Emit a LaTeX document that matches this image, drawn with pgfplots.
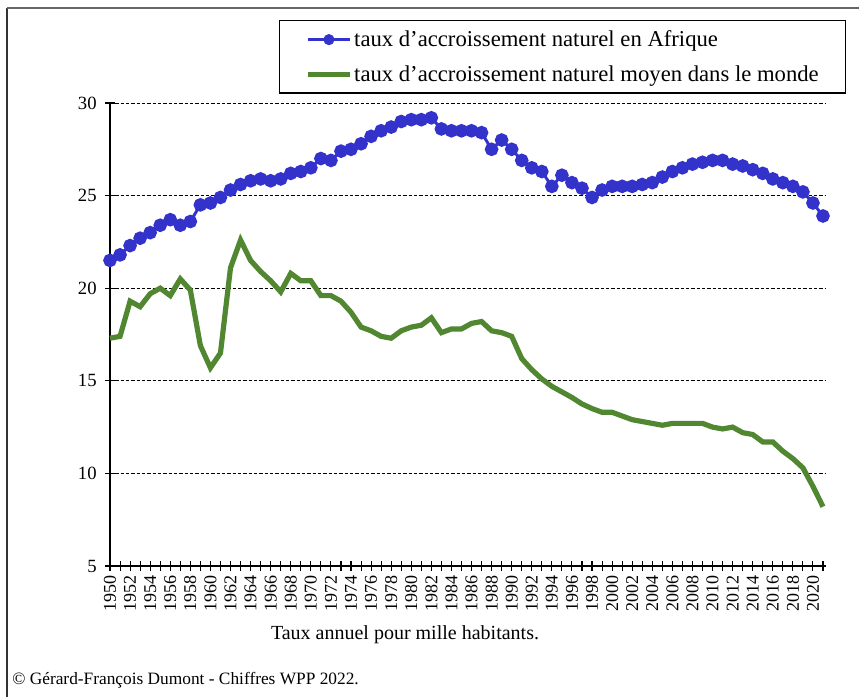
\documentclass[border=0pt]{standalone}
\usepackage{pgfplots}
\pgfplotsset{compat=1.18}
\usepackage{pgfplotstable}
\usepackage{fontspec}
\setmainfont{Liberation Serif}

\definecolor{afrique}{RGB}{51,51,204}
\definecolor{monde}{RGB}{82,135,50}

% taux pour mille, Afrique
\pgfplotstableread{
annee taux
1950 21.5
1951 21.8
1952 22.3
1953 22.7
1954 23.0
1955 23.4
1956 23.7
1957 23.4
1958 23.6
1959 24.5
1960 24.6
1961 24.9
1962 25.3
1963 25.6
1964 25.8
1965 25.9
1966 25.8
1967 25.9
1968 26.2
1969 26.3
1970 26.5
1971 27.0
1972 26.9
1973 27.4
1974 27.5
1975 27.8
1976 28.2
1977 28.5
1978 28.7
1979 29.0
1980 29.1
1981 29.1
1982 29.2
1983 28.6
1984 28.5
1985 28.5
1986 28.5
1987 28.4
1988 27.5
1989 28.0
1990 27.5
1991 26.9
1992 26.5
1993 26.3
1994 25.5
1995 26.1
1996 25.7
1997 25.4
1998 24.9
1999 25.3
2000 25.5
2001 25.5
2002 25.5
2003 25.6
2004 25.7
2005 26.0
2006 26.3
2007 26.5
2008 26.7
2009 26.8
2010 26.9
2011 26.9
2012 26.7
2013 26.6
2014 26.4
2015 26.2
2016 25.9
2017 25.7
2018 25.5
2019 25.2
2020 24.6
2021 23.9
}\afrique

% taux pour mille, monde
\pgfplotstableread{
annee taux
1950 17.3
1951 17.4
1952 19.3
1953 19.0
1954 19.7
1955 20.0
1956 19.6
1957 20.5
1958 19.9
1959 16.9
1960 15.7
1961 16.5
1962 21.1
1963 22.6
1964 21.5
1965 20.9
1966 20.4
1967 19.8
1968 20.8
1969 20.4
1970 20.4
1971 19.6
1972 19.6
1973 19.3
1974 18.7
1975 17.9
1976 17.7
1977 17.4
1978 17.3
1979 17.7
1980 17.9
1981 18.0
1982 18.4
1983 17.6
1984 17.8
1985 17.8
1986 18.1
1987 18.2
1988 17.7
1989 17.6
1990 17.4
1991 16.2
1992 15.6
1993 15.1
1994 14.7
1995 14.4
1996 14.1
1997 13.75
1998 13.5
1999 13.3
2000 13.3
2001 13.1
2002 12.9
2003 12.8
2004 12.7
2005 12.6
2006 12.7
2007 12.7
2008 12.7
2009 12.7
2010 12.5
2011 12.4
2012 12.5
2013 12.2
2014 12.1
2015 11.7
2016 11.7
2017 11.2
2018 10.8
2019 10.3
2020 9.3
2021 8.2
}\monde

\begin{document}
\begin{tikzpicture}
\begin{axis}[
  scale only axis,
  width=537pt, height=347.25pt,
  xmin=1950, xmax=2021.3, ymin=5, ymax=30,
  axis x line*=bottom, axis y line*=left,
  axis line style={-, black, line width=0.9pt},
  xtick={1950,1952,...,2020},
  minor xtick={1951,1953,...,2021},
  ytick={5,10,...,30},
  tick align=center,
  major tick length=7pt, minor tick length=7pt,
  every tick/.style={black, line width=0.8pt},
  xticklabel style={rotate=90, anchor=east, font=\fontsize{13.5}{13.5}\selectfont},
  yticklabel style={font=\fontsize{14}{14}\selectfont, xshift=-3pt},
  /pgf/number format/assume math mode=true,
  /pgf/number format/1000 sep={},
  ymajorgrids,
  major grid style={black, line width=0.7pt, dash pattern=on 2.4pt off 1.6pt},
  clip=false,
  legend cell align=left,
  legend image code/.code={\draw[mark repeat=2,mark phase=2,mark size=3pt,#1] plot coordinates {(0pt,0pt) (16pt,0pt) (32pt,0pt)};},
  legend style={at={(1.028,1.1793)}, anchor=north east, draw=black, line width=1pt,
    inner xsep=19pt, inner ysep=5.5pt, row sep=8.5pt,
    nodes={inner xsep=1pt},
    font=\fontsize{17}{17}\selectfont},
]
\addplot[afrique, line width=2.2pt, mark=*, mark size=4pt]
  table[x=annee, y=taux] {\afrique};
\addlegendentry{taux d'accroissement naturel en Afrique}
\addplot[monde, line width=3.9pt]
  table[x=annee, y=taux] {\monde};
\addlegendentry{taux d'accroissement naturel moyen dans le monde}
\node[font=\fontsize{15}{15}\selectfont] at (rel axis cs:0.412,-0.149) {Taux annuel pour mille habitants.};
\node[anchor=west, font=\fontsize{13}{13}\selectfont] at (rel axis cs:-0.143,-0.246) {© Gérard-François Dumont - Chiffres WPP 2022.};
\end{axis}
% cadre
\draw[black!80, line width=1.2pt] ([xshift=-77.25pt,yshift=-100pt]current axis.south west) -- ([xshift=-77.25pt,yshift=418.5pt]current axis.south west);
\draw[black!60, line width=1.2pt] ([xshift=-77.25pt,yshift=418.5pt]current axis.south west) -- ([xshift=565pt,yshift=418.5pt]current axis.south west);
\pgfresetboundingbox
\path[use as bounding box] ([xshift=-82.5pt,yshift=-97.5pt]current axis.south west) rectangle ([xshift=561.75pt,yshift=424.5pt]current axis.south west);
\end{tikzpicture}
\end{document}
